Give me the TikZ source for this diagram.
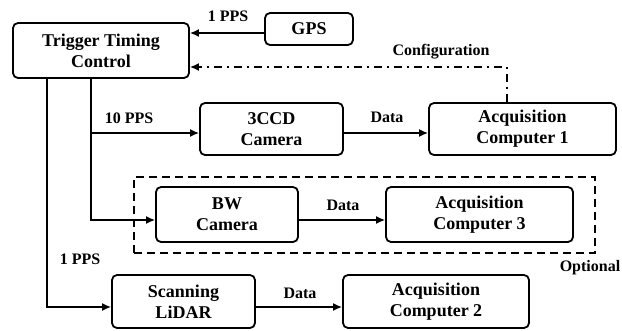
\documentclass[tikz,border=0pt]{standalone}
\usepackage{fontspec}
\setmainfont{Liberation Serif}
\usetikzlibrary{arrows.meta,calc}
\begin{document}
\begin{tikzpicture}[x=1pt,y=-1pt,
  box/.style={draw,line width=1.8pt,rounded corners=5pt,align=center,font=\fontsize{18}{21}\selectfont\bfseries,inner sep=0pt},
  lbl/.style={font=\fontsize{16}{19}\selectfont\bfseries,inner sep=0pt},
  conn/.style={line width=1.6pt,-{Latex[length=9pt,width=8pt]}},
  line/.style={line width=1.6pt}]
\useasboundingbox (0,0) rectangle (622,330);
\node[box,minimum width=176pt,minimum height=55pt] (ttc) at (101,50.5) {Trigger Timing\\Control};
\node[box,minimum width=88pt,minimum height=32pt] (gps) at (309,29) {GPS};
\node[box,minimum width=143pt,minimum height=52pt] (ccd) at (271.5,129) {3CCD\\Camera};
\node[box,minimum width=187pt,minimum height=52pt] (acq1) at (522.5,129) {Acquisition\\Computer 1};
\node[box,minimum width=142pt,minimum height=55pt] (bw) at (227,214.5) {BW\\Camera};
\node[box,minimum width=187pt,minimum height=55pt] (acq3) at (479.5,214.5) {Acquisition\\Computer 3};
\node[box,minimum width=143pt,minimum height=53pt] (lidar) at (183.5,301.5) {Scanning\\LiDAR};
\node[box,minimum width=186pt,minimum height=53pt] (acq2) at (436,301.5) {Acquisition\\Computer 2};
\node[draw,line width=1.6pt,dash pattern=on 8pt off 5pt,minimum width=461pt,minimum height=76pt,inner sep=0pt] (opt) at (364.5,215) {};
% labels
\node[lbl] (l1) at (228,16) {1 PPS};
\node[lbl] (lcfg) at (441,52) {Configuration};
\node[lbl] (l10) at (129,118) {10 PPS};
\node[lbl] (ld1) at (387,117) {Data};
\node[lbl] (ld2) at (343,205) {Data};
\node[lbl] (l1b) at (80,259) {1 PPS};
\node[lbl] (ld3) at (300,293) {Data};
\node[lbl] (lopt) at (590,268) {Optional};
% coordinates
\coordinate (a) at (91,78);
\coordinate (b) at (47,78);
% connectors
\draw[conn] (gps.west |- 0,33) -- (ttc.east |- 0,33);
\draw[conn,dash pattern=on 8pt off 5pt on 2pt off 5pt] (acq1.north -| 507,0) |- (ttc.east |- 0,67);
\draw[conn] (a |- 0,133) -- (ccd.west |- 0,133);
\draw[line] (a) -- (a |- 0,133);
\draw[conn] (a |- 0,133) |- (bw.west |- 0,220);
\draw[conn] (b) |- (lidar.west |- 0,307);
\draw[conn] (ccd.east |- 0,133) -- (acq1.west |- 0,133);
\draw[conn] (bw.east |- 0,220) -- (acq3.west |- 0,220);
\draw[conn] (lidar.east |- 0,307) -- (acq2.west |- 0,307);
\end{tikzpicture}
\end{document}
